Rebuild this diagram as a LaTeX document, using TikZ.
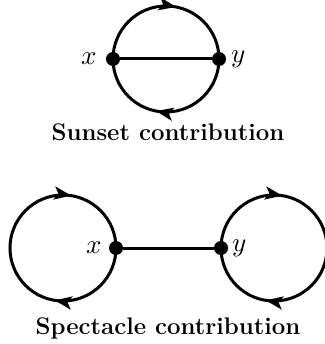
\documentclass[tikz,border=0pt]{standalone}
\usepackage{amsmath}
\usepackage{fontspec}
\usepackage{unicode-math}
\setmainfont{Latin Modern Roman}
\setmathfont{Latin Modern Math}
\usepackage{tikz}
\usetikzlibrary{arrows.meta, positioning, decorations.markings}

\begin{document}
\begin{tikzpicture}[
    x=1pt, y=1pt,
    vertex/.style={circle, fill=black, inner sep=0pt, minimum size=14pt},
    prop/.style={line width=3pt, black},
    flow/.style={prop, decoration={markings,
                 mark=at position #1 with {\arrow{Stealth[length=17pt, width=13pt, inset=4pt]}}},
                 postaction={decorate}},
    flowtwo/.style={prop, decoration={markings,
                 mark=at position 0.275 with {\arrow{Stealth[length=17pt, width=13pt, inset=4pt]}},
                 mark=at position 0.775 with {\arrow{Stealth[length=17pt, width=13pt, inset=4pt]}}},
                 postaction={decorate}},
    lbl/.style={font=\fontsize{27pt}{29pt}\selectfont, inner sep=2pt},
    caption/.style={font=\fontsize{24pt}{26pt}\selectfont\bfseries, anchor=base}
]
    \useasboundingbox (0,0) rectangle (324,-344);

    % Sunset diagram
    \node[vertex] (sx) at (113,-59) {};
    \node[vertex] (sy) at (219,-59) {};
    \draw[flow=0.56] (sx.center) arc (180:0:53);
    \draw[flow=0.56] (sy.center) arc (0:-180:53);
    \draw[prop] (sx) -- (sy);
    \node[lbl, left=7pt of sx] (sxl) {$x$};
    \node[lbl, right=3pt of sy] (syl) {$y$};
    \node[caption] (sunset) at (168,-141) {Sunset contribution};

    % Spectacle diagram
    \node[vertex] (px) at (116,-248) {};
    \node[vertex] (py) at (221,-248) {};
    \draw[flowtwo] (px.center) arc (0:-360:53);
    \draw[flowtwo] (py.center) arc (180:-180:53);
    \draw[prop] (px) -- (py);
    \node[lbl, left=5pt of px] (pxl) {$x$};
    \node[lbl, right=2pt of py] (pyl) {$y$};
    \node[caption] (spectacle) at (168,-334) {Spectacle contribution};
\end{tikzpicture}
\end{document}
